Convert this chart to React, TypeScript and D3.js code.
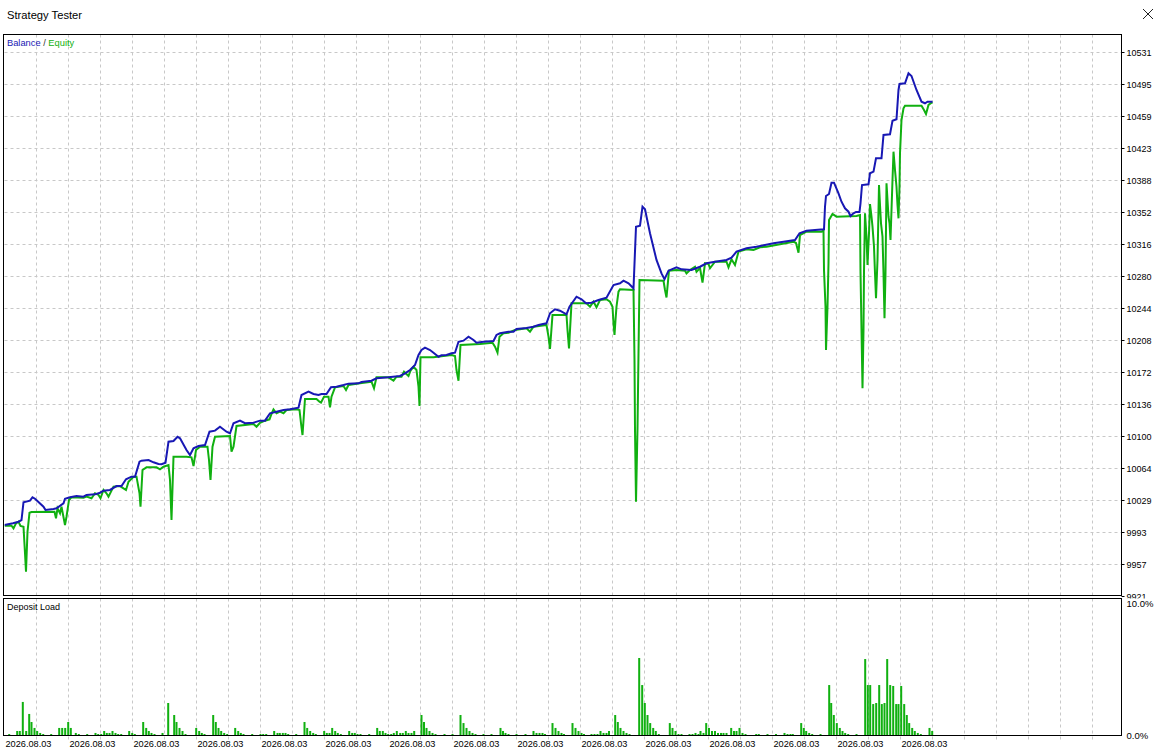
import React, { useEffect, useRef } from "react";
import * as d3 from "d3";

const WIDTH = 1165;
const HEIGHT = 752;

// y axis labels of the balance pane, bottom to top
const yTickLabels = [
  "9921", "9957", "9993", "10029", "10064", "10100", "10136", "10172", "10208",
  "10244", "10280", "10316", "10352", "10388", "10423", "10459", "10495", "10531",
];
const xTickLabels = [
  "2026.08.03", "2026.08.03", "2026.08.03", "2026.08.03", "2026.08.03",
  "2026.08.03", "2026.08.03", "2026.08.03", "2026.08.03", "2026.08.03",
  "2026.08.03", "2026.08.03", "2026.08.03", "2026.08.03", "2026.08.03",
];
const loadLabels = ["0.0%", "10.0%"];

// [time step, balance]
const balance: [number, number][] = [
  [0, 10001.6], [8.5, 10003.5], [14, 10005.3], [17, 10007.2], [19, 10027.1], [25.5, 10028.9],
  [28, 10032.7], [30.5, 10031.1], [39, 10022.1], [41, 10018.4], [49, 10019.6], [52, 10020.3],
  [59, 10026.0], [60.5, 10031.1], [65.5, 10032.7], [72, 10034.1], [79, 10033.4], [82, 10035.3],
  [90.5, 10036.0], [95.5, 10037.8], [99, 10040.1], [105.5, 10040.9], [112, 10045.3], [117, 10045.3],
  [121.5, 10052.9], [127, 10055.8], [130.5, 10055.8], [135, 10072.6], [137, 10073.7], [144, 10074.5],
  [149, 10071.9], [154, 10070.0], [157, 10069.7], [161, 10071.5], [164, 10095.0], [169, 10095.8],
  [173, 10100.6], [175.5, 10098.8], [182, 10085.7], [185.5, 10080.1], [189, 10087.6], [194, 10090.2],
  [200.5, 10091.3], [205, 10106.2], [210.5, 10107.4], [215.5, 10111.8], [222, 10106.2], [225.5, 10104.4],
  [229, 10115.7], [235.5, 10118.6], [240.5, 10115.7], [249, 10116.3], [255.5, 10118.6], [260.5, 10118.6],
  [265.5, 10126.9], [272, 10128.7], [279, 10130.6], [285.5, 10131.3], [294, 10133.1], [297, 10147.4],
  [304, 10151.1], [309, 10148.5], [314, 10147.4], [317, 10148.5], [322, 10148.5], [326.5, 10156.0],
  [332, 10156.7], [339, 10158.6], [344, 10160.1], [354, 10160.5], [357, 10162.0], [367, 10163.4],
  [372, 10166.1], [384, 10167.2], [395.5, 10168.7], [400.5, 10171.7], [405.5, 10175.4], [410.5, 10181.0],
  [414, 10192.2], [417, 10197.8], [420.5, 10200.4], [425.5, 10197.8], [429, 10194.8], [434, 10190.3],
  [437, 10191.9], [442, 10192.2], [447, 10194.1], [450.5, 10194.8], [454, 10207.1], [459, 10208.3],
  [464, 10212.8], [469, 10209.1], [472, 10206.0], [479, 10207.1], [489, 10207.9], [492, 10214.7],
  [495.5, 10216.6], [504, 10218.4], [509, 10218.4], [512, 10221.4], [522, 10222.5], [529, 10224.0],
  [534, 10225.9], [542, 10227.8], [545.5, 10239.0], [550.5, 10243.5], [555.5, 10241.9], [562, 10237.9],
  [565, 10246.4], [572, 10257.6], [577, 10254.7], [581.5, 10250.2], [587, 10250.9], [594, 10253.9],
  [602, 10256.5], [609, 10270.7], [615.5, 10272.6], [619, 10275.5], [624, 10272.6], [629, 10267.0],
  [631.5, 10336.1], [635.5, 10337.2], [638, 10358.5], [640.5, 10355.6], [645.5, 10328.7], [652, 10298.8],
  [657, 10283.8], [660, 10277.1], [664, 10286.8], [672, 10290.6], [677, 10288.3], [687, 10287.5],
  [695.5, 10291.2], [702, 10295.1], [710.5, 10296.8], [722, 10298.8], [727, 10301.3], [732, 10308.1],
  [742, 10311.9], [752, 10313.7], [760.5, 10315.6], [769, 10317.5], [779, 10319.3], [790.5, 10321.2],
  [795, 10328.7], [802, 10331.6], [810.5, 10332.4], [819.5, 10333.2], [820.5, 10358.5], [821.5, 10370.5],
  [824.5, 10372.8], [827, 10385.4], [829.5, 10385.4], [834, 10373.5], [837, 10364.1], [840.5, 10356.7],
  [844, 10352.9], [846, 10348.1], [849, 10351.1], [851.5, 10352.6], [855, 10352.6], [856, 10362.3],
  [857.5, 10382.8], [864, 10383.6], [865.5, 10396.0], [869, 10397.8], [871.5, 10412.8], [877, 10412.8],
  [879, 10438.9], [885.5, 10439.7], [888, 10454.9], [892, 10456.5], [894, 10489.4], [895, 10496.1],
  [900.5, 10496.9], [904, 10508.1], [907, 10505.1], [912, 10489.4], [917, 10476.2], [920.5, 10474.5],
  [923, 10476.2], [928, 10476.2],
];

// [time step, equity]
const equity: [number, number][] = [
  [0, 10000.8], [7, 10000.8], [9, 9997.9], [11.5, 10003.5], [14, 10005.3], [16, 10000.5],
  [19, 9999.7], [20.5, 9969.9], [21.5, 9949.3], [23, 9994.1], [25, 10015.4], [27, 10016.2],
  [50, 10016.5], [51.5, 10009.1], [53, 10020.3], [55.5, 10014.7], [57, 10022.1], [60.5, 10001.6],
  [62, 10010.9], [64.5, 10029.7], [67, 10032.7], [79, 10032.2], [82, 10033.4], [87, 10031.6],
  [90.5, 10037.2], [94, 10035.3], [96, 10031.6], [99, 10040.9], [102, 10037.2], [104, 10033.4],
  [109, 10044.6], [115.5, 10045.3], [121.5, 10040.9], [124, 10050.2], [129, 10055.8], [132, 10055.8],
  [135, 10037.2], [136, 10022.1], [138, 10063.3], [142, 10066.3], [152, 10066.3], [155.5, 10064.1],
  [159, 10067.0], [164, 10068.9], [165.5, 10052.1], [167, 10007.2], [169, 10078.2], [182, 10078.2],
  [187, 10077.5], [189, 10067.8], [191.5, 10085.7], [195.5, 10089.4], [203, 10089.4], [204.5, 10074.5],
  [206, 10052.1], [208, 10089.4], [210.5, 10100.6], [225.5, 10101.4], [227, 10083.8], [229, 10089.4],
  [232, 10112.6], [249, 10114.9], [252, 10111.8], [255.5, 10116.3], [260.5, 10118.6], [265, 10120.1],
  [267, 10126.1], [269, 10131.3], [272, 10126.9], [275.5, 10128.7], [279, 10126.9], [282, 10130.6],
  [292, 10131.3], [295, 10130.6], [296.5, 10115.7], [298, 10102.5], [299.5, 10126.9], [300.5, 10143.0],
  [312, 10143.0], [315, 10139.9], [316.5, 10138.8], [319.5, 10145.5], [324, 10145.5], [325.5, 10133.6],
  [327, 10145.5], [330.5, 10156.0], [339, 10157.5], [341.5, 10153.0], [344, 10158.6], [355.5, 10160.5],
  [367, 10162.3], [369.5, 10154.9], [372, 10167.2], [384, 10167.2], [389, 10163.4], [392, 10167.9],
  [397, 10167.9], [399.5, 10173.5], [404, 10168.7], [406, 10174.6], [409, 10179.1], [412, 10175.4],
  [414, 10156.7], [415, 10135.1], [416, 10189.7], [429, 10189.7], [447, 10192.2], [450.5, 10191.1],
  [452, 10175.4], [454, 10163.4], [456, 10203.5], [475.5, 10204.6], [488, 10206.0], [490.5, 10201.5],
  [493, 10194.8], [495, 10212.8], [499, 10216.6], [504, 10217.2], [510.5, 10220.3], [522, 10222.2],
  [525.5, 10218.4], [529, 10224.0], [542, 10225.9], [544, 10212.8], [545.5, 10199.0], [548, 10237.1],
  [562, 10237.1], [563, 10220.3], [564.5, 10199.7], [567, 10250.2], [582, 10250.2], [585.5, 10246.4],
  [589, 10252.0], [592, 10245.7], [595.5, 10253.9], [602, 10254.7], [605.5, 10252.0], [608, 10246.4],
  [609, 10227.8], [610, 10214.7], [611, 10231.5], [612, 10246.4], [614, 10263.2], [615.5, 10265.9],
  [629, 10265.1], [630, 10186.6], [630.5, 10108.1], [631.5, 10027.7], [633, 10110.0], [634, 10194.1],
  [635, 10276.3], [659, 10275.5], [660.5, 10265.1], [662, 10256.7], [664.5, 10286.8], [672, 10287.5],
  [680.5, 10286.8], [682, 10283.8], [685.5, 10287.5], [690.5, 10291.2], [692, 10285.6], [695.5, 10289.8],
  [698, 10273.3], [700.5, 10295.1], [704, 10294.3], [705.5, 10289.5], [710.5, 10296.8], [722, 10296.8],
  [724, 10290.6], [727, 10299.5], [730.5, 10293.1], [734, 10308.1], [742, 10310.8], [749, 10310.0],
  [755.5, 10313.0], [762, 10313.7], [775.5, 10316.4], [789, 10319.3], [791.5, 10317.8], [794, 10306.9],
  [795.5, 10326.8], [802, 10330.5], [817, 10330.5], [819, 10331.6], [819.5, 10287.5], [821, 10246.4],
  [821.5, 10197.8], [823, 10246.4], [824, 10295.1], [824.5, 10343.6], [828, 10350.3], [832, 10347.3],
  [852, 10348.1], [855.5, 10349.2], [856, 10285.6], [857, 10220.3], [858, 10154.9], [859, 10220.3],
  [859.5, 10285.6], [860.5, 10351.1], [862, 10324.9], [863, 10293.1], [864.5, 10328.7], [865.5, 10361.5],
  [867, 10347.3], [868, 10336.1], [869.5, 10313.7], [870.5, 10283.8], [871.5, 10255.8], [873, 10298.8],
  [874.5, 10382.8], [875.5, 10360.4], [876.5, 10339.9], [878, 10324.9], [879, 10283.8], [880, 10233.4],
  [881, 10283.8], [882, 10384.8], [884, 10347.3], [885, 10339.9], [886, 10321.2], [887, 10354.8],
  [888, 10388.5], [889, 10420.2], [890.5, 10399.7], [892, 10380.9], [893, 10360.4], [894, 10345.5],
  [895, 10380.9], [895.5, 10418.4], [897, 10455.7], [899, 10468.9], [900.5, 10471.8], [917, 10471.8],
  [919.5, 10466.9], [921.5, 10462.5], [924, 10472.6], [927, 10475.1], [928, 10475.1],
];

// [time step, deposit load %]
const depositLoad: [number, number][] = [
  [4.2, 0.15], [12.2, 0.38], [14.8, 0.38], [17.8, 2.58], [21.2, 0.38], [24.2, 1.67], [26.5, 1.06],
  [29.5, 0.61], [32.2, 0.38], [35.2, 0.23], [38.2, 0.15], [46.2, 0.15], [54.2, 0.61], [57.2, 0.61],
  [60.2, 0.61], [63.2, 1.06], [65.8, 0.61], [70.8, 0.23], [73.8, 0.15], [82.2, 0.15], [90.5, 0.23],
  [93.2, 0.15], [96.2, 0.15], [99.2, 0.38], [101.8, 0.23], [104.5, 0.23], [107.5, 0.38], [110.5, 0.23],
  [113.2, 0.15], [116.2, 0.15], [124.2, 0.38], [127.2, 0.23], [129.8, 0.15], [138.2, 1.06], [141.2, 0.61],
  [143.8, 0.38], [146.5, 0.23], [149.5, 0.15], [157.5, 0.23], [163.2, 2.5], [169.2, 1.59], [171.5, 1.06],
  [174.5, 0.61], [177.5, 0.38], [180.5, 0.15], [191.2, 0.61], [194.2, 0.38], [196.8, 0.23], [199.5, 0.15],
  [208.2, 1.59], [210.8, 1.06], [213.5, 0.61], [216.2, 0.38], [219.2, 0.23], [222.2, 0.15], [230.2, 0.61],
  [233.2, 0.38], [235.8, 0.23], [238.5, 0.15], [247.2, 0.15], [255.5, 0.15], [258.2, 0.15], [261.2, 0.15],
  [269.2, 0.38], [272.5, 0.23], [274.8, 0.23], [277.8, 0.23], [280.5, 0.23], [283.2, 0.15], [291.2, 0.15],
  [299.5, 1.06], [302.2, 0.61], [305.2, 0.38], [308.2, 0.23], [310.8, 0.15], [319.2, 0.38], [321.8, 0.23],
  [324.5, 0.23], [327.2, 0.61], [330.2, 0.38], [332.8, 0.23], [335.8, 0.15], [344.2, 0.38], [347.2, 0.23],
  [349.8, 0.23], [352.5, 0.15], [355.5, 0.15], [364.2, 0.15], [372.2, 0.61], [374.8, 0.38], [377.8, 0.38],
  [380.5, 0.23], [383.2, 0.15], [386.2, 0.15], [388.8, 0.23], [391.8, 0.38], [395.2, 0.23], [397.8, 0.23],
  [400.8, 0.38], [403.5, 0.23], [406.5, 0.23], [409.2, 0.38], [416.5, 1.59], [419, 1.06], [421.5, 0.61],
  [424.5, 0.38], [427.5, 0.23], [430.5, 0.15], [439.5, 0.15], [447.5, 0.15], [455.5, 1.59], [458.5, 0.98],
  [461.5, 0.61], [464.5, 0.38], [467.5, 0.23], [470.5, 0.15], [478.5, 0.15], [486.5, 0.15], [495.5, 0.61],
  [498, 0.38], [500.5, 0.23], [503.5, 0.15], [511.5, 0.15], [520.5, 0.15], [528.5, 0.38], [531.5, 0.23],
  [534.5, 0.23], [537.5, 0.23], [540, 0.15], [547.5, 0.98], [550.5, 0.61], [553.5, 0.38], [556.5, 0.23],
  [559, 0.15], [567.5, 0.98], [570.5, 0.61], [573.5, 0.38], [576.5, 0.23], [579, 0.15], [586.5, 0.15],
  [589.5, 0.15], [592.5, 0.15], [595.5, 0.38], [598.5, 0.23], [601.5, 0.23], [604, 0.38], [610.2, 1.59],
  [612.8, 1.06], [615.5, 0.61], [618.5, 0.38], [621.5, 0.23], [624.5, 0.15], [634.2, 5.91], [637.2, 3.86],
  [639.8, 2.5], [642.5, 1.59], [645.2, 0.98], [648.2, 0.61], [650.8, 0.38], [653.8, 0.15], [664.8, 0.98],
  [667.5, 0.61], [670.5, 0.38], [673.5, 0.15], [676.5, 0.15], [684.5, 0.15], [687.5, 0.15], [690.5, 0.23],
  [693.5, 0.15], [695.5, 0.38], [698.5, 0.23], [701.2, 0.98], [704, 0.61], [707, 0.38], [710, 0.38],
  [713, 0.23], [716, 0.23], [718.5, 0.23], [721.5, 0.23], [726.2, 0.61], [729, 0.38], [731.5, 0.38],
  [734.5, 0.61], [737.5, 0.23], [740.5, 0.15], [751.2, 0.15], [753.8, 0.15], [762.5, 0.15], [771, 0.15],
  [779.5, 0.23], [782.5, 0.15], [785.5, 0.15], [787.8, 0.15], [796.2, 0.98], [798.8, 0.61], [801.2, 0.38],
  [804.2, 0.23], [807.2, 0.15], [815.5, 0.15], [824.2, 3.86], [826.2, 2.5], [828.8, 1.59], [831.8, 0.98],
  [834.8, 0.61], [837.5, 0.38], [840.2, 0.23], [843.2, 0.15], [851.5, 0.15], [860.2, 5.83], [862.8, 3.86],
  [865.2, 3.86], [868.2, 2.42], [871.2, 2.5], [874.2, 3.86], [876.8, 2.42], [879.5, 2.5], [882.2, 5.83],
  [885.2, 3.86], [888.2, 3.79], [891.2, 2.42], [893.5, 2.42], [896.2, 3.79], [899.2, 2.42], [901.8, 1.59],
  [904.2, 0.98], [907.2, 0.61], [909.8, 0.38], [912.8, 0.23], [915.8, 0.15], [924.5, 0.61], [927.2, 0.38],
];

const BLUE = "#1818b4";
const GREEN = "#10b010";
const GRID = "#c8c8c8";
const FONT = "'Liberation Sans', Arial, sans-serif";

const LEFT = 4.5;
const RIGHT = 1121.5;
const TOP = 34.5;
const TOP_BOTTOM = 595.5;
const LOW_TOP = 598.5;
const LOW_BOTTOM = 736;

export default function App() {
  const ref = useRef<SVGSVGElement>(null);

  useEffect(() => {
    if (!ref.current) return;
    const svg = d3.select(ref.current);
    svg.selectAll("*").remove();

    const x = d3.scaleLinear().domain([0, 1117]).range([LEFT, RIGHT]);
    const y = d3.scaleLinear().domain([9921.45, 10531.41]).range([596.5, 52.5]);
    const yLoad = d3.scaleLinear().domain([0, 10]).range([LOW_BOTTOM, 604]);
    const yStep = (10531.41 - 9921.45) / (yTickLabels.length - 1);
    const yTicks = yTickLabels.map((_, i) => 9921.45 + i * yStep);

    svg.append("rect").attr("width", WIDTH).attr("height", HEIGHT).attr("fill", "#fff");

    // window title
    svg.append("text").attr("x", 7).attr("y", 19).attr("font-family", FONT)
      .attr("font-size", 11.2).attr("fill", "#000").text("Strategy Tester");
    const close = svg.append("g").attr("stroke", "#222").attr("stroke-width", 1);
    close.append("line").attr("x1", 1143).attr("y1", 9).attr("x2", 1153).attr("y2", 19);
    close.append("line").attr("x1", 1153).attr("y1", 9).attr("x2", 1143).attr("y2", 19);

    const defs = svg.append("defs");
    defs.append("clipPath").attr("id", "topClip").append("rect")
      .attr("x", LEFT).attr("y", TOP).attr("width", RIGHT - LEFT).attr("height", TOP_BOTTOM - TOP);
    defs.append("clipPath").attr("id", "labelClip").append("rect")
      .attr("x", 0).attr("y", 30).attr("width", WIDTH).attr("height", LOW_TOP - 30);

    // grid
    const grid = svg.append("g").attr("stroke", GRID).attr("stroke-dasharray", "3,3")
      .attr("stroke-width", 1);
    const xGrid = d3.range(32, 1117, 32);
    grid.selectAll(".vt").data(xGrid).enter().append("line")
      .attr("x1", (d) => x(d)).attr("x2", (d) => x(d)).attr("y1", TOP).attr("y2", TOP_BOTTOM);
    grid.selectAll(".vb").data(xGrid).enter().append("line")
      .attr("x1", (d) => x(d)).attr("x2", (d) => x(d)).attr("y1", LOW_TOP).attr("y2", LOW_BOTTOM + 4);
    grid.selectAll(".h").data(yTicks.slice(1)).enter().append("line")
      .attr("x1", LEFT).attr("x2", RIGHT).attr("y1", (d) => y(d)).attr("y2", (d) => y(d));

    // deposit load bars
    svg.append("g").selectAll("rect").data(depositLoad).enter().append("rect")
      .attr("x", (d) => x(d[0]) - 0.5).attr("width", 2)
      .attr("y", (d) => yLoad(d[1])).attr("height", (d) => LOW_BOTTOM - yLoad(d[1]))
      .attr("fill", GREEN);

    // balance / equity
    const line = d3.line<[number, number]>().x((d) => x(d[0])).y((d) => y(d[1]));
    const lines = svg.append("g").attr("clip-path", "url(#topClip)");
    lines.append("path").attr("d", line(equity)).attr("fill", "none")
      .attr("stroke", GREEN).attr("stroke-width", 2);
    lines.append("path").attr("d", line(balance)).attr("fill", "none")
      .attr("stroke", BLUE).attr("stroke-width", 2);

    // frames
    const frame = svg.append("g").attr("fill", "none").attr("stroke", "#000").attr("stroke-width", 1);
    frame.append("rect").attr("x", 3.5).attr("y", TOP).attr("width", RIGHT - 3.5)
      .attr("height", TOP_BOTTOM - TOP);
    frame.append("rect").attr("x", 3.5).attr("y", LOW_TOP).attr("width", RIGHT - 3.5)
      .attr("height", LOW_BOTTOM - 0.5 - LOW_TOP);

    // y axis
    const yAxis = svg.append("g").attr("clip-path", "url(#labelClip)");
    yAxis.selectAll("line").data(yTicks).enter().append("line")
      .attr("x1", RIGHT).attr("x2", RIGHT + 3).attr("y1", (d) => y(d)).attr("y2", (d) => y(d))
      .attr("stroke", "#000");
    yAxis.selectAll("text").data(yTicks).enter().append("text")
      .attr("x", RIGHT + 5).attr("y", (d) => y(d) + 3.3).attr("font-family", FONT)
      .attr("font-size", 9).attr("fill", "#000").text((_, i) => yTickLabels[i]);

    // deposit load axis
    svg.selectAll(".ll").data([0, 10]).enter().append("text")
      .attr("x", RIGHT + 5).attr("y", (d) => yLoad(d) + 3.3).attr("font-family", FONT)
      .attr("font-size", 9.5).attr("fill", "#000").text((_, i) => loadLabels[i]);

    // x labels
    svg.selectAll(".xl").data(xTickLabels).enter().append("text")
      .attr("x", (_, i) => x(i * 64) + 1).attr("y", 747).attr("font-family", FONT)
      .attr("font-size", 9.2).attr("fill", "#000").text((d) => d);

    // legends
    const legend = svg.append("text").attr("x", 7).attr("y", 46).attr("font-family", FONT)
      .attr("font-size", 9.3);
    legend.append("tspan").attr("fill", BLUE).text("Balance");
    legend.append("tspan").attr("fill", "#333").text(" / ");
    legend.append("tspan").attr("fill", GREEN).text("Equity");
    svg.append("text").attr("x", 7).attr("y", 610).attr("font-family", FONT)
      .attr("font-size", 9).attr("fill", "#000").text("Deposit Load");
  }, []);

  return (
    <svg
      ref={ref}
      width={WIDTH}
      height={HEIGHT}
      style={{ position: "absolute", left: 0, top: 0, display: "block" }}
    ></svg>
  );
}
